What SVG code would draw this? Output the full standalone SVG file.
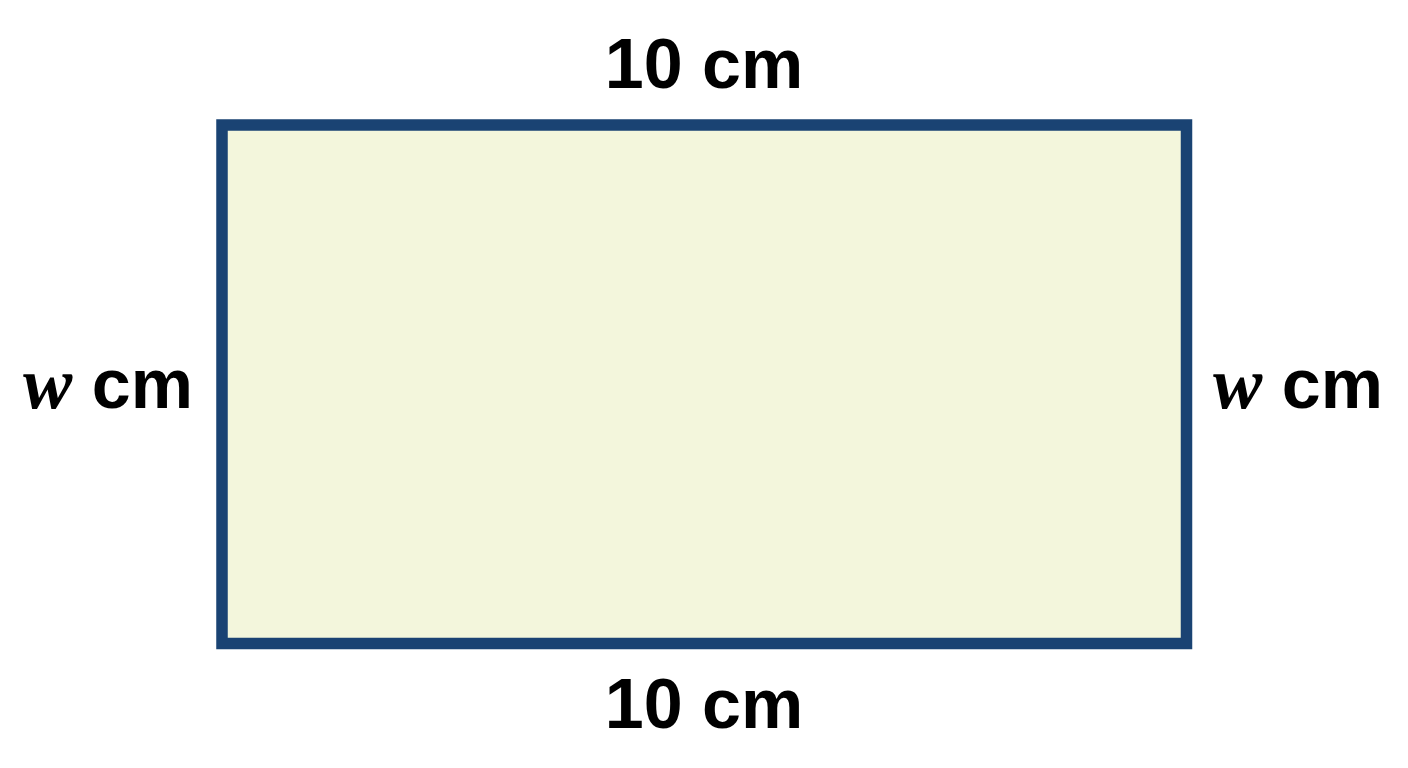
<svg xmlns="http://www.w3.org/2000/svg" width="1408" height="768" viewBox="0 0 1408 768">
<style>
.lbl{font-family:"Liberation Sans",Arial,sans-serif;font-weight:bold;font-size:70px;fill:#000}
.var{font-family:"Liberation Serif","Times New Roman",serif;font-style:italic;font-weight:bold;font-size:74px}
</style>
<rect width="1408" height="768" fill="#ffffff"/>
<g id="rectangle">
<rect x="222" y="125" width="964.5" height="518.5" fill="#F3F6DC" stroke="#1A4373" stroke-width="11.5"/>
</g>
<g id="label-top"><text class="lbl" x="704" y="88" text-anchor="middle">10 cm</text></g>
<g id="label-bottom"><text class="lbl" x="704" y="728" text-anchor="middle">10 cm</text></g>
<g id="label-left"><text class="lbl" x="193" y="408" text-anchor="end"><tspan class="var">w</tspan> cm</text></g>
<g id="label-right"><text class="lbl" x="1383" y="408" text-anchor="end"><tspan class="var">w</tspan> cm</text></g>
</svg>
